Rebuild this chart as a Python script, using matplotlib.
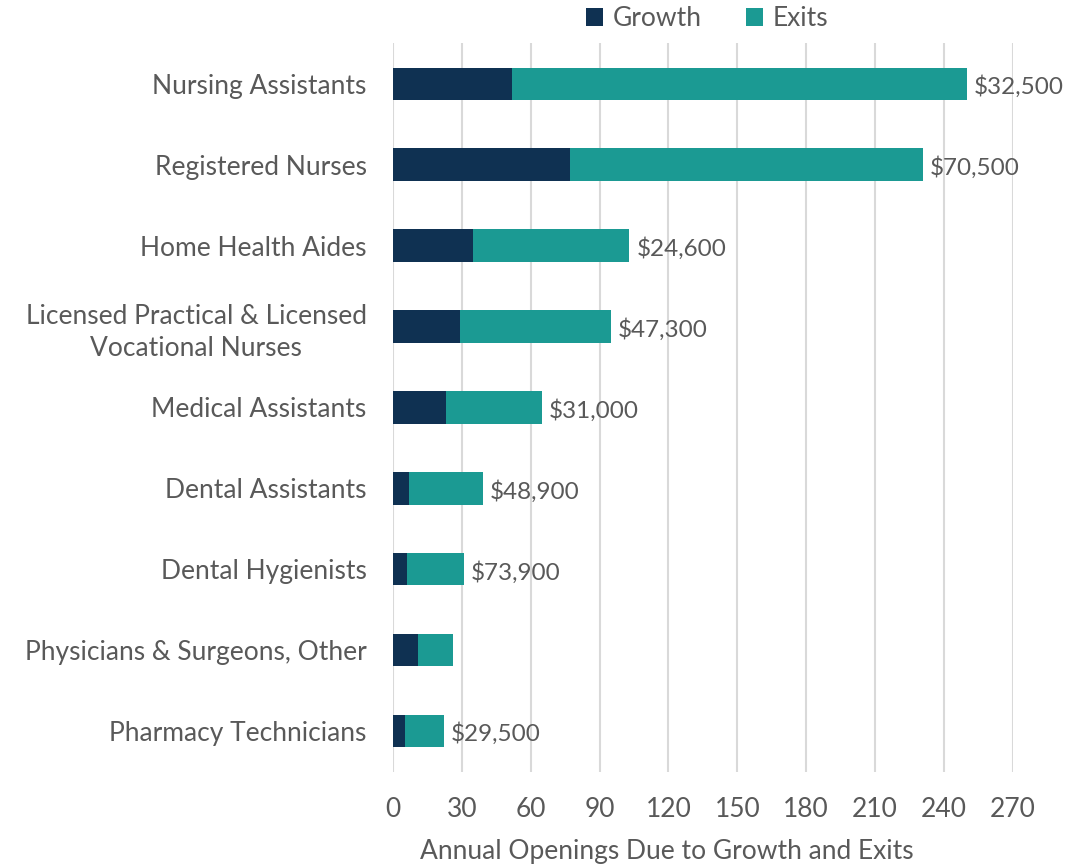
import numpy as np
import matplotlib.pyplot as plt

plt.rcParams['font.family'] = ['Lato', 'DejaVu Sans']

occupations = [
    "Nursing Assistants",
    "Registered Nurses",
    "Home Health Aides",
    "Licensed Practical & Licensed\nVocational Nurses",
    "Medical Assistants",
    "Dental Assistants",
    "Dental Hygienists",
    "Physicians & Surgeons, Other",
    "Pharmacy Technicians",
]
growth = [52, 77, 35, 29, 23, 7, 6, 11, 5]
exits = [198, 154, 68, 66, 42, 32, 25, 15, 17]
wages = ["$32,500", "$70,500", "$24,600", "$47,300", "$31,000",
         "$48,900", "$73,900", "", "$29,500"]
xticks = [0, 30, 60, 90, 120, 150, 180, 210, 240, 270]

navy = '#0f3152'
teal = '#1b9a93'
gray = '#595959'
fs = 19

fig = plt.figure(figsize=(10.66, 8.66), dpi=100)
ax = fig.add_axes([0.3687, 0.109, 0.5813, 0.841])

y = np.arange(len(occupations))
ax.barh(y, growth, height=0.4, color=navy, label='Growth', zorder=3)
ax.barh(y, exits, left=growth, height=0.4, color=teal, label='Exits', zorder=3)

# wage labels at the end of each stacked bar
for yi, g, e, w in zip(y, growth, exits, wages):
    ax.annotate(w, (g + e, yi), xytext=(5, -2), textcoords='offset points',
                va='center', ha='left', fontsize=17.5, color=gray)

ax.set_ylim(len(occupations) - 0.5, -0.5)
ax.set_xlim(0, 270)
ax.set_yticks(y)
ax.set_yticklabels(occupations, fontsize=fs, color=gray,
                   multialignment='center', linespacing=1.35)
ax.set_xticks(xticks)
ax.set_xticklabels([str(t) for t in xticks], fontsize=fs, color=gray)
ax.tick_params(axis='y', length=0, pad=19)
ax.tick_params(axis='x', length=0, pad=18)
ax.set_xlabel('Annual Openings Due to Growth and Exits', fontsize=fs, color=gray)
ax.xaxis.set_label_coords(0.442, -0.092)

ax.grid(axis='x', color='#d9d9d9', linewidth=1.5, zorder=0)
ax.set_axisbelow(True)
for s in ax.spines.values():
    s.set_visible(False)

handles, labels = ax.get_legend_handles_labels()
fig.legend(handles, labels, loc='center', bbox_to_anchor=(707 / 1066, 1 - 19 / 866),
           ncol=2, frameon=False, fontsize=fs, labelcolor=gray,
           handlelength=0.65, handleheight=0.65, handletextpad=0.35,
           columnspacing=1.7, borderpad=0)

fig.savefig('out.png', dpi=100)
